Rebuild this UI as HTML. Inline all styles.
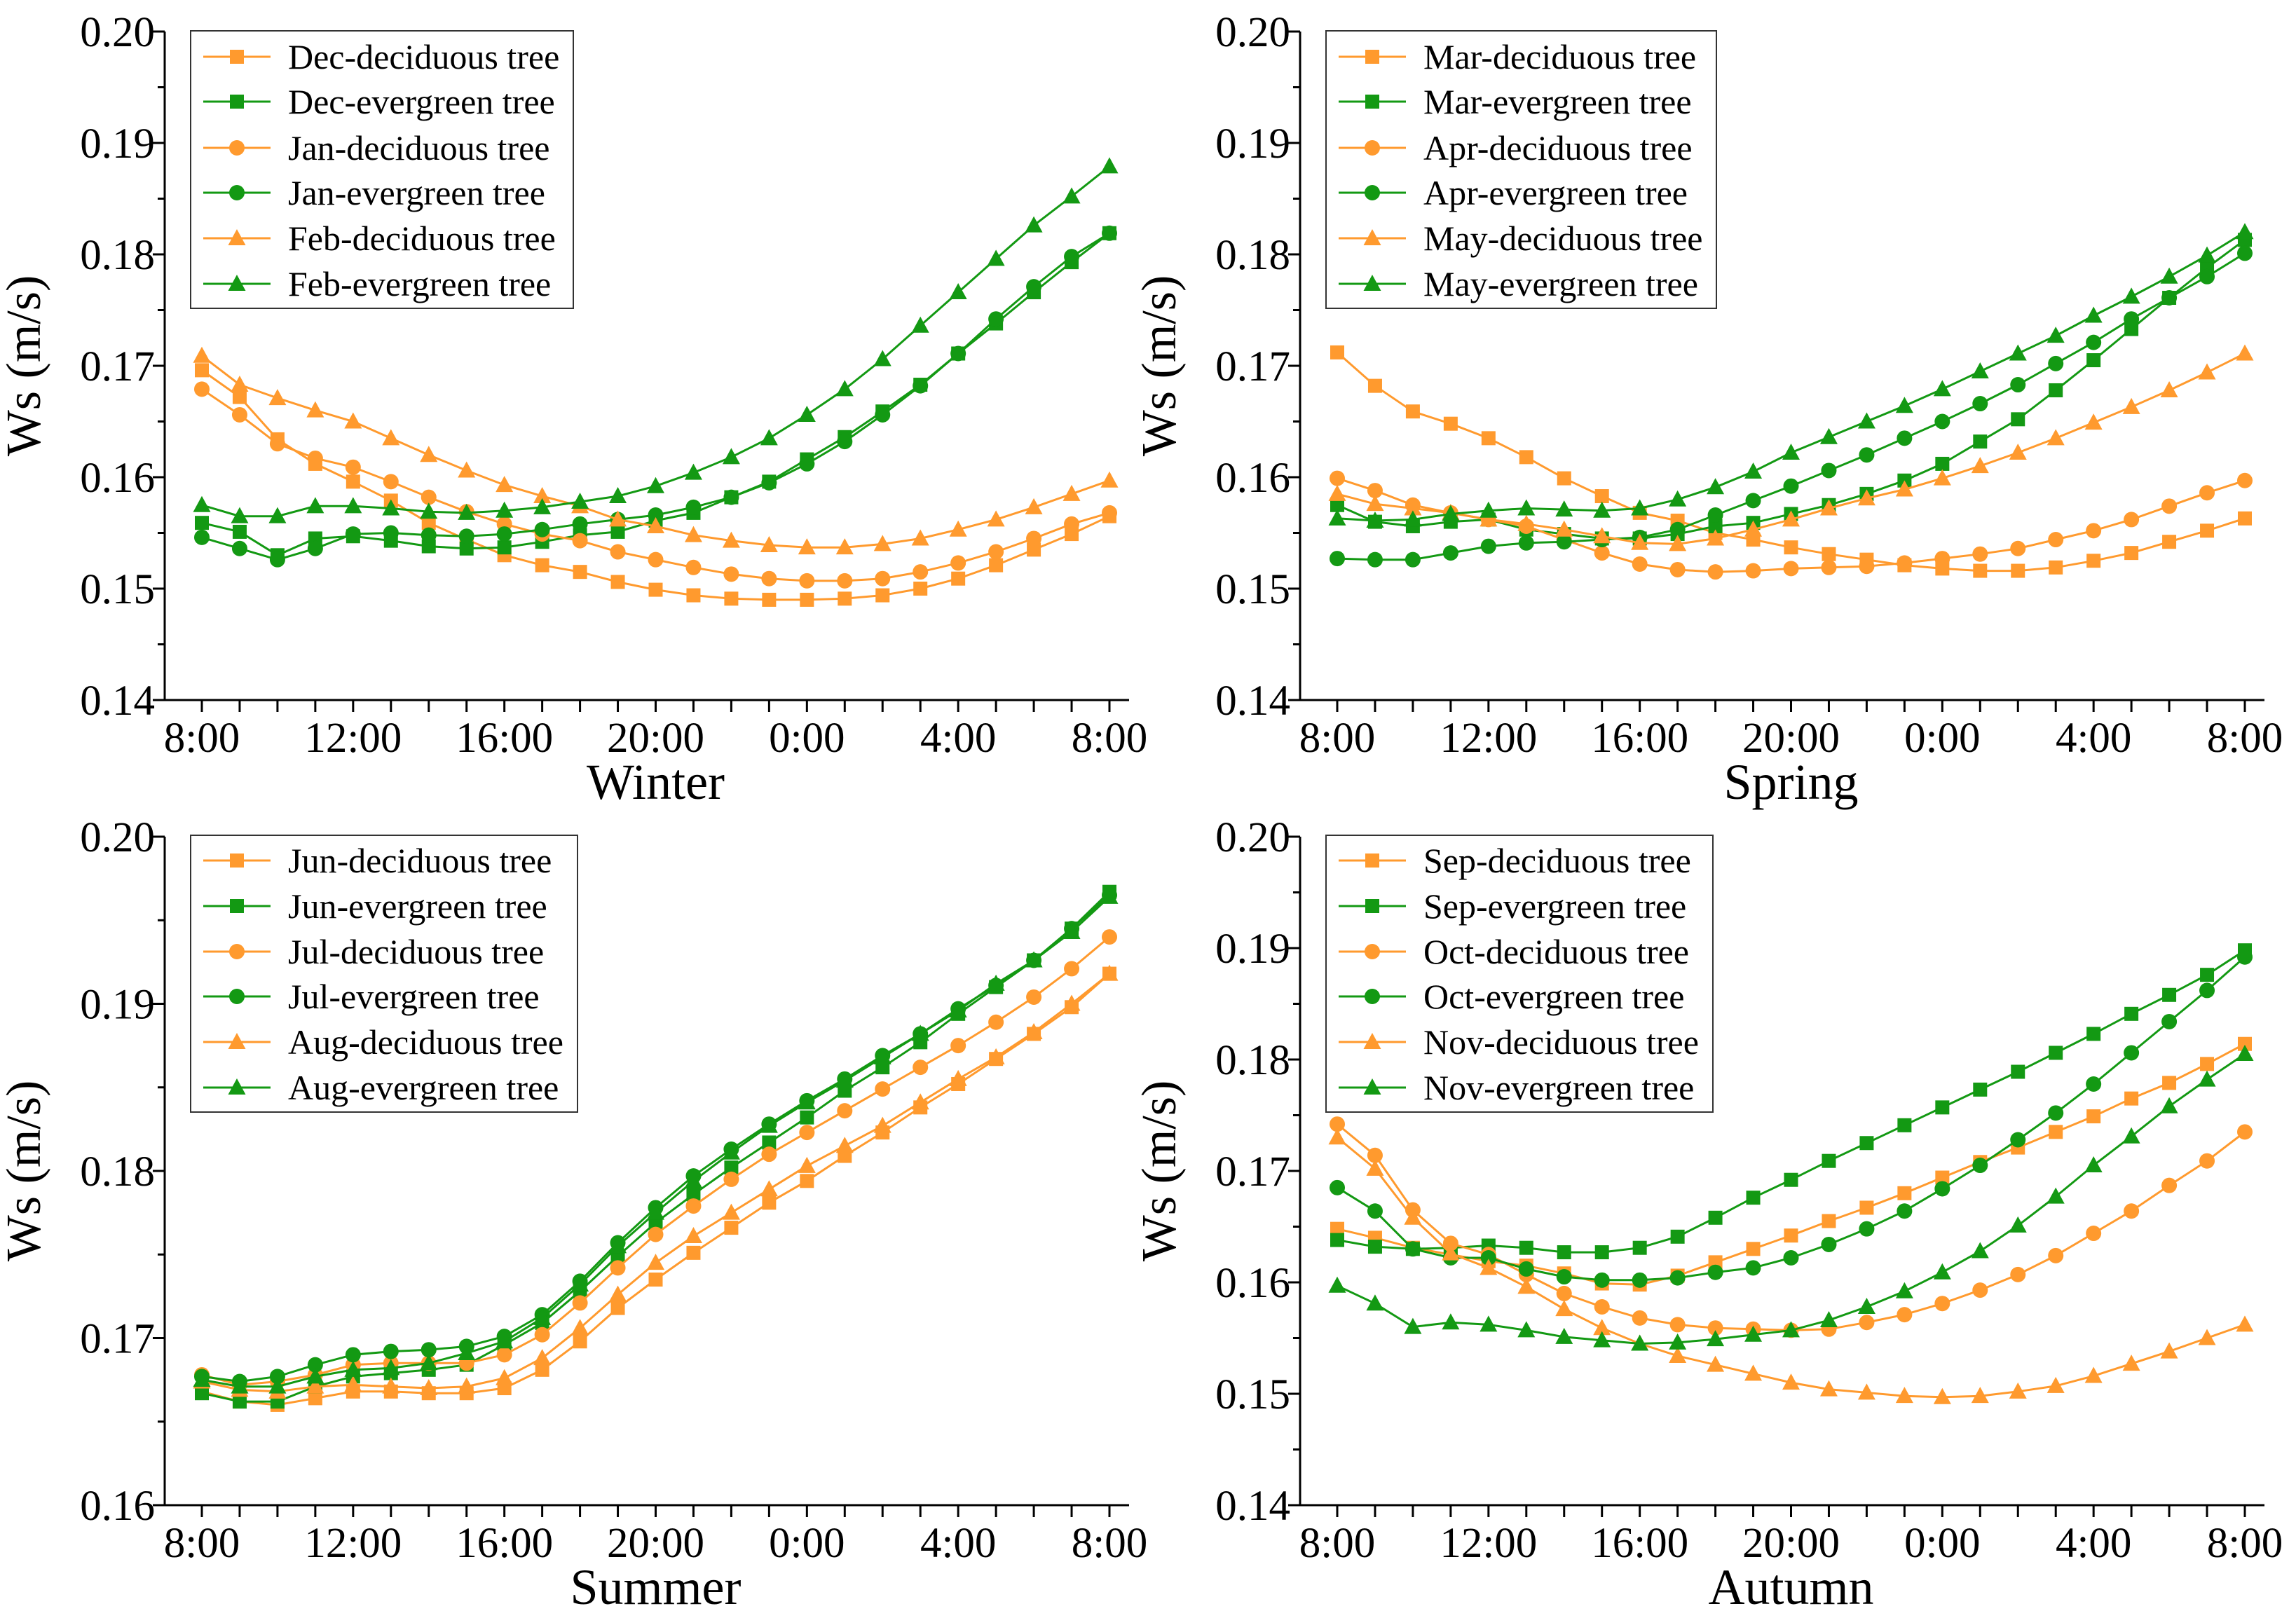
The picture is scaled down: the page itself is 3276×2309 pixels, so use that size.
<!DOCTYPE html>
<html><head><meta charset="utf-8">
<style>
html,body{margin:0;padding:0;background:#fff;}
svg{display:block;font-family:"Liberation Serif","Times New Roman",serif;}
svg text{font-family:"Liberation Serif","Times New Roman",serif;}
</style></head>
<body>
<svg id="chart" width="3276" height="2309" viewBox="0 0 3276 2309" xmlns="http://www.w3.org/2000/svg" font-family="Liberation Serif, Times New Roman, serif"></svg>
<script>
const hourLabels = ["8:00","12:00","16:00","20:00","0:00","4:00","8:00"];

const winterNames = ["Dec-deciduous tree","Dec-evergreen tree","Jan-deciduous tree","Jan-evergreen tree","Feb-deciduous tree","Feb-evergreen tree"];
const decDeciduous = [0.1696,0.1672,0.1634,0.1612,0.1596,0.1579,0.1559,0.1544,0.1530,0.1521,0.1515,0.1506,0.1499,0.1494,0.1491,0.1490,0.1490,0.1491,0.1494,0.1500,0.1509,0.1521,0.1535,0.1549,0.1565];
const decEvergreen = [0.1559,0.1551,0.1530,0.1545,0.1547,0.1543,0.1538,0.1536,0.1537,0.1542,0.1548,0.1551,0.1561,0.1568,0.1582,0.1596,0.1616,0.1636,0.1659,0.1683,0.1711,0.1738,0.1766,0.1793,0.1819];
const janDeciduous = [0.1679,0.1656,0.1630,0.1617,0.1609,0.1596,0.1582,0.1569,0.1558,0.1549,0.1543,0.1533,0.1526,0.1519,0.1513,0.1509,0.1507,0.1507,0.1509,0.1515,0.1523,0.1533,0.1545,0.1558,0.1568];
const janEvergreen = [0.1546,0.1536,0.1526,0.1536,0.1549,0.1550,0.1548,0.1547,0.1549,0.1553,0.1558,0.1562,0.1566,0.1573,0.1582,0.1595,0.1612,0.1632,0.1656,0.1682,0.1711,0.1742,0.1771,0.1798,0.1819];
const febDeciduous = [0.1709,0.1683,0.1671,0.1660,0.1650,0.1635,0.1620,0.1606,0.1593,0.1583,0.1574,0.1562,0.1556,0.1548,0.1543,0.1539,0.1537,0.1537,0.1540,0.1545,0.1553,0.1562,0.1573,0.1585,0.1597];
const febEvergreen = [0.1575,0.1565,0.1565,0.1574,0.1574,0.1572,0.1569,0.1568,0.1570,0.1573,0.1578,0.1583,0.1592,0.1604,0.1618,0.1635,0.1656,0.1679,0.1706,0.1736,0.1766,0.1796,0.1826,0.1852,0.1879];

const springNames = ["Mar-deciduous tree","Mar-evergreen tree","Apr-deciduous tree","Apr-evergreen tree","May-deciduous tree","May-evergreen tree"];
const marDeciduous = [0.1712,0.1682,0.1659,0.1648,0.1635,0.1618,0.1599,0.1583,0.1568,0.1561,0.1550,0.1544,0.1537,0.1531,0.1526,0.1521,0.1518,0.1516,0.1516,0.1519,0.1525,0.1532,0.1542,0.1552,0.1563];
const marEvergreen = [0.1575,0.1560,0.1556,0.1560,0.1562,0.1553,0.1549,0.1545,0.1545,0.1549,0.1556,0.1559,0.1567,0.1575,0.1585,0.1597,0.1612,0.1632,0.1652,0.1678,0.1705,0.1733,0.1761,0.1788,0.1813];
const aprDeciduous = [0.1599,0.1588,0.1575,0.1568,0.1562,0.1556,0.1544,0.1532,0.1522,0.1517,0.1515,0.1516,0.1518,0.1519,0.1520,0.1523,0.1527,0.1531,0.1536,0.1544,0.1552,0.1562,0.1574,0.1586,0.1597];
const aprEvergreen = [0.1527,0.1526,0.1526,0.1532,0.1538,0.1541,0.1542,0.1544,0.1546,0.1553,0.1566,0.1579,0.1592,0.1606,0.1620,0.1635,0.1650,0.1666,0.1683,0.1702,0.1721,0.1742,0.1761,0.1780,0.1801];
const mayDeciduous = [0.1585,0.1576,0.1572,0.1568,0.1562,0.1558,0.1553,0.1547,0.1541,0.1540,0.1545,0.1553,0.1562,0.1572,0.1581,0.1589,0.1599,0.1610,0.1622,0.1635,0.1649,0.1663,0.1678,0.1694,0.1711];
const mayEvergreen = [0.1563,0.1561,0.1562,0.1567,0.1570,0.1572,0.1571,0.1570,0.1572,0.1580,0.1591,0.1605,0.1622,0.1636,0.1650,0.1664,0.1679,0.1695,0.1711,0.1727,0.1745,0.1762,0.1780,0.1799,0.1820];

const summerNames = ["Jun-deciduous tree","Jun-evergreen tree","Jul-deciduous tree","Jul-evergreen tree","Aug-deciduous tree","Aug-evergreen tree"];
const junDeciduous = [0.1668,0.1662,0.1660,0.1664,0.1668,0.1668,0.1667,0.1667,0.1670,0.1681,0.1698,0.1718,0.1735,0.1751,0.1766,0.1781,0.1794,0.1809,0.1823,0.1838,0.1852,0.1867,0.1882,0.1898,0.1918];
const junEvergreen = [0.1667,0.1662,0.1662,0.1671,0.1677,0.1679,0.1681,0.1684,0.1696,0.1709,0.1728,0.1749,0.1769,0.1786,0.1802,0.1817,0.1832,0.1848,0.1862,0.1877,0.1894,0.1910,0.1926,0.1945,0.1967];
const julDeciduous = [0.1678,0.1672,0.1674,0.1678,0.1684,0.1685,0.1685,0.1685,0.1690,0.1702,0.1721,0.1742,0.1762,0.1779,0.1795,0.1810,0.1823,0.1836,0.1849,0.1862,0.1875,0.1889,0.1904,0.1921,0.1940];
const julEvergreen = [0.1677,0.1674,0.1677,0.1684,0.1690,0.1692,0.1693,0.1695,0.1701,0.1714,0.1734,0.1757,0.1778,0.1797,0.1813,0.1828,0.1842,0.1855,0.1869,0.1882,0.1897,0.1911,0.1926,0.1945,0.1965];
const augDeciduous = [0.1674,0.1669,0.1668,0.1671,0.1672,0.1671,0.1670,0.1671,0.1676,0.1688,0.1706,0.1726,0.1745,0.1761,0.1775,0.1789,0.1803,0.1815,0.1827,0.1841,0.1855,0.1868,0.1883,0.1900,0.1918];
const augEvergreen = [0.1675,0.1671,0.1671,0.1677,0.1681,0.1682,0.1685,0.1691,0.1698,0.1712,0.1732,0.1755,0.1775,0.1794,0.1811,0.1827,0.1841,0.1854,0.1868,0.1882,0.1896,0.1912,0.1926,0.1943,0.1964];

const autumnNames = ["Sep-deciduous tree","Sep-evergreen tree","Oct-deciduous tree","Oct-evergreen tree","Nov-deciduous tree","Nov-evergreen tree"];
const sepDeciduous = [0.1648,0.1640,0.1631,0.1625,0.1619,0.1615,0.1608,0.1599,0.1598,0.1606,0.1618,0.1630,0.1642,0.1655,0.1667,0.1680,0.1694,0.1708,0.1721,0.1735,0.1749,0.1765,0.1779,0.1796,0.1814];
const sepEvergreen = [0.1638,0.1632,0.1630,0.1631,0.1633,0.1631,0.1627,0.1627,0.1631,0.1641,0.1658,0.1676,0.1692,0.1709,0.1725,0.1741,0.1757,0.1773,0.1789,0.1806,0.1823,0.1841,0.1858,0.1876,0.1898];
const octDeciduous = [0.1742,0.1714,0.1665,0.1635,0.1625,0.1607,0.1590,0.1578,0.1568,0.1562,0.1559,0.1558,0.1557,0.1558,0.1564,0.1571,0.1581,0.1593,0.1607,0.1624,0.1644,0.1664,0.1687,0.1709,0.1735];
const octEvergreen = [0.1685,0.1664,0.1630,0.1622,0.1622,0.1612,0.1605,0.1602,0.1602,0.1604,0.1609,0.1613,0.1622,0.1634,0.1648,0.1664,0.1684,0.1705,0.1728,0.1752,0.1778,0.1806,0.1834,0.1862,0.1892];
const novDeciduous = [0.1730,0.1702,0.1658,0.1626,0.1613,0.1596,0.1576,0.1559,0.1545,0.1534,0.1526,0.1518,0.1510,0.1504,0.1501,0.1498,0.1497,0.1498,0.1502,0.1507,0.1516,0.1527,0.1538,0.1550,0.1562];
const novEvergreen = [0.1597,0.1581,0.1560,0.1564,0.1562,0.1557,0.1551,0.1548,0.1545,0.1546,0.1549,0.1553,0.1557,0.1566,0.1578,0.1592,0.1609,0.1628,0.1651,0.1677,0.1705,0.1731,0.1758,0.1782,0.1805];

const yTicksA = ["0.14","0.15","0.16","0.17","0.18","0.19","0.20"];
const yTicksB = ["0.16","0.17","0.18","0.19","0.20"];

const ORANGE = "#FF9A2E", GREEN = "#139913";
const FONT = "Liberation Serif, Times New Roman, serif";
const NS = "http://www.w3.org/2000/svg";
const svg = document.getElementById("chart");
function mk(tag, attrs, parent){
  const e = document.createElementNS(NS, tag);
  for (const k in attrs) e.setAttribute(k, attrs[k]);
  if (tag === "text") e.setAttribute("font-family", FONT);
  (parent||svg).appendChild(e);
  return e;
}
function marker(g, shape, cx, cy, color){
  let m;
  if (shape === "square") m = mk("rect", {x:cx-10, y:cy-10, width:20, height:20, fill:color}, g);
  else if (shape === "circle") m = mk("circle", {cx:cx, cy:cy, r:11, fill:color}, g);
  else m = mk("polygon", {points:`${cx},${cy-13} ${cx-12.5},${cy+10} ${cx+12.5},${cy+10}`, fill:color}, g);
  return m;
}

function panel(cfg){
  const {key, ax0, xFirst, xLast, axRight, yTop, yBot, vMin, vMax, yTicks, title, names, series, legend} = cfg;
  const xs = i => xFirst + (xLast - xFirst) * i / 24;
  const ys = v => yBot - (v - vMin) / (vMax - vMin) * (yBot - yTop);
  const g = mk("g", {});
  
  
  const ax = mk("path", {d:`M${ax0},${yTop} L${ax0},${yBot} L${axRight},${yBot}`, stroke:"#000", "stroke-width":3, fill:"none"}, g);
  
  
  for (let i = 0; i <= 24; i++){
    const x = xs(i);
    mk("line", {x1:x, y1:yBot, x2:x, y2:yBot+17, stroke:"#000", "stroke-width":3}, g);
  }
  hourLabels.forEach((lab, j) => {
    const t = mk("text", {x:xs(j*4), y:1073 - 999 + yBot, "font-size":61, "text-anchor":"middle", fill:"#000"}, g);
    t.textContent = lab;
    
    
  });
  const step = 0.005;
  const nMinor = Math.round((vMax - vMin) / step);
  for (let k = 0; k <= nMinor; k++){
    const y = ys(vMin + k*step);
    const len = (k % 2 === 0) ? 17 : 10;
    mk("line", {x1:ax0-len, y1:y, x2:ax0, y2:y, stroke:"#000", "stroke-width":3}, g);
  }
  yTicks.forEach(lab => {
    const t = mk("text", {x:ax0-14, y:ys(parseFloat(lab))+21, "font-size":61, "text-anchor":"end", fill:"#000"}, g);
    t.textContent = lab;
    
    
  });
  const ytY = (yTop + yBot) / 2;
  const yt = mk("text", {x:0, y:0, "font-size":70, "text-anchor":"middle", transform:`translate(${ax0-178},${ytY}) rotate(-90)`, fill:"#000"}, g);
  yt.textContent = "Ws (m/s)";
  
  
  const xt = mk("text", {x:(xFirst+xLast)/2, y:yBot+141, "font-size":72, "text-anchor":"middle", fill:"#000"}, g);
  xt.textContent = title;
  
  
  const shapes = ["square","square","circle","circle","triangle","triangle"];
  series.forEach((vals, si) => {
    const color = si % 2 === 0 ? ORANGE : GREEN;
    const sg = mk("g", {}, g);
    
    
    const pts = vals.map((v,i) => `${xs(i).toFixed(1)},${ys(v).toFixed(1)}`).join(" ");
    mk("polyline", {points:pts, fill:"none", stroke:color, "stroke-width":3}, sg);
    vals.forEach((v,i) => {
      const m = marker(sg, shapes[si], xs(i), ys(v), color);
      
      
    });
  });
  const lg = mk("g", {}, g);
  
  
  mk("rect", {x:legend.x, y:legend.y, width:legend.w, height:legend.h, fill:"#fff", stroke:"#333", "stroke-width":2}, lg);
  names.forEach((nm, si) => {
    const color = si % 2 === 0 ? ORANGE : GREEN;
    const ry = legend.rows[si];
    const e = mk("g", {}, lg);
    
    
    mk("line", {x1:legend.x+18, y1:ry, x2:legend.x+114, y2:ry, stroke:color, "stroke-width":3}, e);
    marker(e, shapes[si], legend.x+66, ry, color);
    const t = mk("text", {x:legend.x+139, y:ry+17, "font-size":50, fill:"#000"}, e);
    t.textContent = nm;
  });
}

const topRows = [81,145,211,275,340,405];
const botRows = [1228,1293,1358,1422,1487,1552];
panel({key:"winter", ax0:235, xFirst:288, xLast:1583, axRight:1611, yTop:45, yBot:999, vMin:0.14, vMax:0.20, yTicks:yTicksA, title:"Winter", names:winterNames,
  series:[decDeciduous,decEvergreen,janDeciduous,janEvergreen,febDeciduous,febEvergreen],
  legend:{x:272, y:44, w:546, h:396, rows:topRows}});
panel({key:"spring", ax0:1855, xFirst:1908, xLast:3203, axRight:3231, yTop:45, yBot:999, vMin:0.14, vMax:0.20, yTicks:yTicksA, title:"Spring", names:springNames,
  series:[marDeciduous,marEvergreen,aprDeciduous,aprEvergreen,mayDeciduous,mayEvergreen],
  legend:{x:1892, y:44, w:557, h:396, rows:topRows}});
panel({key:"summer", ax0:235, xFirst:288, xLast:1583, axRight:1611, yTop:1194, yBot:2148, vMin:0.16, vMax:0.20, yTicks:yTicksB, title:"Summer", names:summerNames,
  series:[junDeciduous,junEvergreen,julDeciduous,julEvergreen,augDeciduous,augEvergreen],
  legend:{x:272, y:1192, w:552, h:395, rows:botRows}});
panel({key:"autumn", ax0:1855, xFirst:1908, xLast:3203, axRight:3231, yTop:1194, yBot:2148, vMin:0.14, vMax:0.20, yTicks:yTicksA, title:"Autumn", names:autumnNames,
  series:[sepDeciduous,sepEvergreen,octDeciduous,octEvergreen,novDeciduous,novEvergreen],
  legend:{x:1892, y:1192, w:552, h:395, rows:botRows}});
</script>
</body></html>
